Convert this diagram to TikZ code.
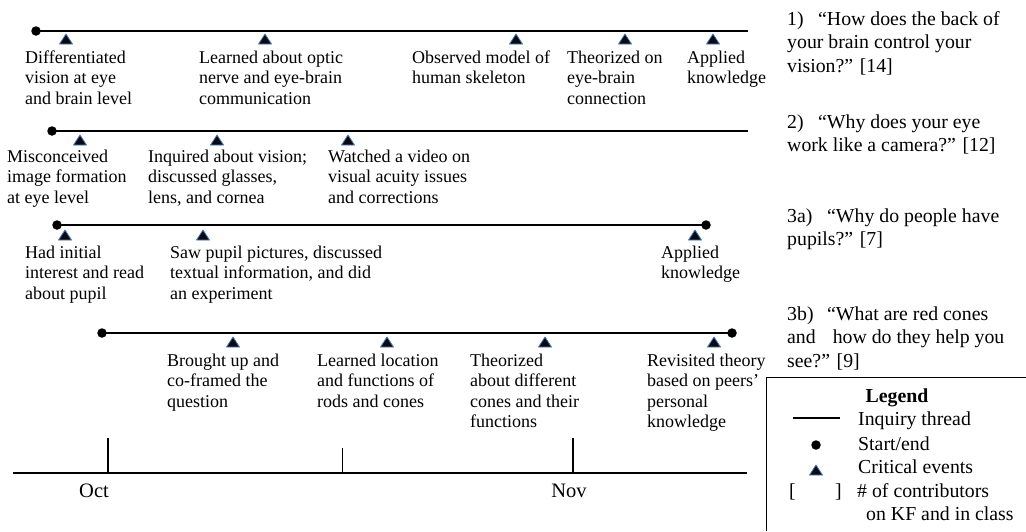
\documentclass[tikz,border=0pt]{standalone}
\usepackage{fontspec}
\setmainfont{Liberation Serif}
\definecolor{triedge}{HTML}{4A7EBB}
\definecolor{trifill}{HTML}{0A0A12}
\newcommand{\evlines}[1]{\begin{tabular}[t]{@{}l@{}}#1\end{tabular}}
\tikzset{
  evtext/.style={anchor=base west, inner sep=0pt, font=\fontsize{18}{20.5}\selectfont},
  qtext/.style={anchor=base west, inner sep=0pt, font=\fontsize{19.8}{23.5}\selectfont},
  lgtext/.style={anchor=base west, inner sep=0pt, font=\fontsize{19.8}{23.5}\selectfont},
  mtext/.style={anchor=base, inner sep=0pt, font=\fontsize{20.5}{24}\selectfont},
  dot/.style={circle, fill=black, inner sep=0pt, minimum size=9.5pt},
  thread/.style={line width=1.4pt},
  evtri/.pic={\filldraw[fill=trifill, draw=triedge, line width=0.8pt, line join=round] (-6.5,5) -- (6.5,5) -- (0,-5) -- cycle;}
}
\begin{document}
\begin{tikzpicture}[x=1pt,y=-1pt]
\useasboundingbox (0,0) rectangle (1026,531);

% ---------- Thread 1
\node[dot] (s1) at (36,31) {};
\coordinate (e1) at (748,31);
\draw[thread] (s1.center) -- (e1);
\foreach \xx in {66,265,516,625,713} \pic at (\xx,39) {evtri};
\node[evtext] (a1) at (25,63)  {\evlines{Differentiated\\vision at eye\\and brain level}};
\node[evtext] (a2) at (199,63) {\evlines{Learned about optic\\nerve and eye-brain\\communication}};
\node[evtext] (a3) at (412,63) {\evlines{Observed model of\\human skeleton}};
\node[evtext] (a4) at (567,63) {\evlines{Theorized on\\eye-brain\\connection}};
\node[evtext] (a5) at (687,63) {\evlines{Applied\\knowledge}};

% ---------- Thread 2
\node[dot] (s2) at (52,131) {};
\coordinate (e2) at (748,131);
\draw[thread] (s2.center) -- (e2);
\foreach \xx in {80,217,348} \pic at (\xx,140) {evtri};
\node[evtext] (b1) at (7,162)   {\evlines{Misconceived\\image formation\\at eye level}};
\node[evtext] (b2) at (148,162) {\evlines{Inquired about vision;\\discussed glasses,\\lens, and cornea}};
\node[evtext] (b3) at (328,162) {\evlines{Watched a video on\\visual acuity issues\\and corrections}};

% ---------- Thread 3
\node[dot] (s3) at (57,225) {};
\node[dot] (f3) at (706,225) {};
\draw[thread] (s3.center) -- (f3.center);
\foreach \xx in {65,203,695} \pic at (\xx,235) {evtri};
\node[evtext] (c1) at (25,258)  {\evlines{Had initial\\interest and read\\about pupil}};
\node[evtext] (c2) at (170,258) {\evlines{Saw pupil pictures, discussed\\textual information, and did\\an experiment}};
\node[evtext] (c3) at (661,258) {\evlines{Applied\\knowledge}};

% ---------- Thread 4
\node[dot] (s4) at (102,333) {};
\node[dot] (f4) at (732,333) {};
\draw[thread] (s4.center) -- (f4.center);
\foreach \xx in {233,387,545,714} \pic at (\xx,342) {evtri};
\node[evtext] (d1) at (167,366) {\evlines{Brought up and\\co-framed the\\question}};
\node[evtext] (d2) at (317,366) {\evlines{Learned location\\and functions of\\rods and cones}};
\node[evtext] (d3) at (470,366) {\evlines{Theorized\\about different\\cones and their\\functions}};
\node[evtext] (d4) at (647,366) {\evlines{Revisited theory\\based on peers’\\personal\\knowledge}};

% ---------- Time axis
\coordinate (ax0) at (13,473);
\coordinate (ax1) at (747,473);
\draw[line width=2.7pt] (ax0) -- (ax1);
\draw[line width=2pt] (108,438) -- (108,472);
\draw[line width=1pt] (342,448) -- (342,472);
\draw[line width=2pt] (573,438) -- (573,472);
\node[mtext] (oct) at (94,497) {Oct};
\node[mtext] (nov) at (569,497) {Nov};

% ---------- Questions
\node[qtext] (q1) at (787,25)  {\evlines{\makebox[31pt][l]{1)}“How does the back of\\your brain control your\\vision?” [14]}};
\node[qtext] (q2) at (787,128) {\evlines{\makebox[31pt][l]{2)}“Why does your eye\\work like a camera?” [12]}};
\node[qtext] (q3) at (787,222) {\evlines{\makebox[40pt][l]{3a)}“Why do people have\\pupils?” [7]}};
\node[qtext] (q4) at (787,320) {\evlines{\makebox[40pt][l]{3b)}“What are red cones\\and\hspace{17pt}how do they help you\\see?” [9]}};

% ---------- Legend
\draw[line width=1pt] (766,531) -- (766,377) -- (1026,377);
\node[mtext, font=\fontsize{19.8}{23.5}\selectfont\bfseries] (lg) at (897,402) {Legend};
\coordinate (lgl0) at (793,418);
\coordinate (lgl1) at (840,418);
\draw[line width=1.2pt] (lgl0) -- (lgl1);
\node[lgtext] (lg1) at (858,425) {Inquiry thread};
\node[dot] (lgdot) at (816,445) {};
\node[lgtext] (lg2) at (858,450) {Start/end};
\pic at (816,470) {evtri};
\node[lgtext] (lg3) at (858,473) {Critical events};
\node[lgtext] (lgb1) at (789,497) {[};
\node[lgtext] (lgb2) at (835,497) {]};
\node[lgtext] (lg4) at (857,497) {\# of contributors};
\node[lgtext] (lg5) at (866,520) {on KF and in class};
\end{tikzpicture}
\end{document}
